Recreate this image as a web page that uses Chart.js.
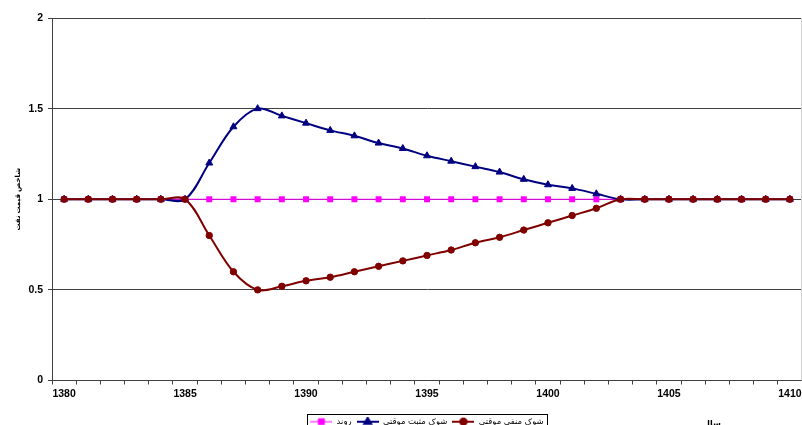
<!DOCTYPE html>
<html><head><meta charset="utf-8">
<script src="https://cdn.jsdelivr.net/npm/chart.js@4"></script>
<style>
html,body{margin:0;padding:0;background:#fff;overflow:hidden}
#wrap{position:relative;width:802px;height:425px;overflow:hidden;background:#fff}
#box{position:absolute;left:0;top:0;width:807px;height:440px}
</style></head><body>
<div id="wrap"><div id="box"><canvas id="c"></canvas></div></div>
<script>
const years = [1380,1381,1382,1383,1384,1385,1386,1387,1388,1389,1390,1391,1392,1393,1394,1395,1396,1397,1398,1399,1400,1401,1402,1403,1404,1405,1406,1407,1408,1409,1410];
const trendValues = [1,1,1,1,1,1,1,1,1,1,1,1,1,1,1,1,1,1,1,1,1,1,1,1,1,1,1,1,1,1,1];
const positiveShock = [1,1,1,1,1,1,1.2,1.4,1.5,1.46,1.42,1.38,1.35,1.31,1.28,1.24,1.21,1.18,1.15,1.11,1.08,1.06,1.03,1,1,1,1,1,1,1,1];
const negativeShock = [1,1,1,1,1,1,0.8,0.6,0.5,0.52,0.55,0.57,0.6,0.63,0.66,0.69,0.72,0.76,0.79,0.83,0.87,0.91,0.95,1,1,1,1,1,1,1,1];
const yTickValues = [0,0.5,1,1.5,2];
const seriesNames = ['روند','شوک مثبت موقتی','شوک منفی موقتی'];
const yTitle = 'شاخص قیمت نفت';
const xTitle = 'سال';

const FONT = '"Liberation Sans", Arial, "DejaVu Sans", sans-serif';
const AXIS = '#404040';

function legendMarker(color, lw, style, r) {
  const c = document.createElement('canvas');
  c.width = 22; c.height = 10;
  const g = c.getContext('2d');
  g.strokeStyle = color; g.lineWidth = lw;
  g.beginPath(); g.moveTo(0, 5); g.lineTo(22, 5); g.stroke();
  g.fillStyle = color; g.strokeStyle = color;
  Chart.helpers.drawPoint(g, {pointStyle: style, radius: r, borderWidth: 1, rotation: 0}, 11, 5);
  return c;
}
const markers = [
  legendMarker('#FF00FF', 1, 'rect', 4.2),
  legendMarker('#000080', 2, 'triangle', 4),
  legendMarker('#800000', 2, 'circle', 3.2)
];

const legendBox = {
  id: 'legendBox',
  afterDraw(chart) {
    const ctx = chart.ctx;
    const ca = chart.chartArea;
    ctx.save();
    // light plot-area edge on the right
    ctx.strokeStyle = '#d0d0d0'; ctx.lineWidth = 1;
    ctx.beginPath();
    ctx.moveTo(Math.floor(ca.right) - 0.5, ca.top);
    ctx.lineTo(Math.floor(ca.right) - 0.5, ca.bottom);
    ctx.stroke();
    const hb = chart.legend && chart.legend.legendHitBoxes;
    if (hb && hb.length) {
      let l = Infinity, r = -Infinity, t = Infinity, b = -Infinity;
      hb.forEach(h => { l = Math.min(l, h.left); r = Math.max(r, h.left + h.width); t = Math.min(t, h.top); b = Math.max(b, h.top + h.height); });
      ctx.strokeStyle = '#000'; ctx.lineWidth = 1;
      ctx.strokeRect(Math.round(l - 3) + 0.5, Math.round(t - 4) + 0.5, Math.round(r - l + 7), Math.round(b - t + 8));
      ctx.fillStyle = '#000';
      ctx.font = 'bold 8px ' + FONT;
      ctx.textAlign = 'center';
      ctx.textBaseline = 'middle';
      ctx.fillText(xTitle, ca.left + (ca.right - ca.left) * 0.88, (t + b) / 2 + 2);
    }
    ctx.restore();
  }
};

new Chart(document.getElementById('c'), {
  type: 'line',
  data: {
    labels: years.map(String),
    datasets: [
      {label: seriesNames[0], data: trendValues, borderColor: '#FF00FF', backgroundColor: '#FF00FF',
       borderWidth: 1, pointStyle: 'rect', pointRadius: 4.2, pointBorderWidth: 0, tension: 0, order: 3},
      {label: seriesNames[1], data: positiveShock, borderColor: '#000080', backgroundColor: '#000080',
       borderWidth: 2, pointStyle: 'triangle', pointRadius: 4, pointBorderWidth: 1, tension: 0.35, order: 2},
      {label: seriesNames[2], data: negativeShock, borderColor: '#800000', backgroundColor: '#800000',
       borderWidth: 2, pointStyle: 'circle', pointRadius: 3.2, pointBorderWidth: 1, tension: 0.35, order: 1}
    ]
  },
  options: {
    responsive: true,
    maintainAspectRatio: false,
    animation: false,
    events: [],
    layout: {padding: {left: 0, right: 0, top: 18, bottom: 4}},
    plugins: {
      tooltip: {enabled: false},
      legend: {
        display: true,
        position: 'bottom',
        fullSize: false,
        labels: {
          usePointStyle: true,
          pointStyleWidth: 22,
          padding: 5,
          color: '#000',
          font: {family: FONT, size: 8.5},
          sort: (a, b) => a.datasetIndex - b.datasetIndex,
          generateLabels: (chart) => {
            const items = Chart.defaults.plugins.legend.labels.generateLabels(chart);
            items.forEach(it => { it.pointStyle = markers[it.datasetIndex]; });
            return items;
          }
        }
      }
    },
    scales: {
      x: {
        type: 'category',
        offset: true,
        grid: {offset: true, drawOnChartArea: false, drawTicks: true, tickLength: 4, color: AXIS, lineWidth: 1},
        border: {display: true, color: AXIS, width: 1},
        ticks: {
          autoSkip: false, maxRotation: 0, minRotation: 0, padding: 3, color: '#000',
          font: {family: FONT, size: 10.5, weight: 'bold'},
          callback: function(v, i) { return years[i] % 5 === 0 ? String(years[i]) : ''; }
        },
        afterFit: (s) => { s.height = 32; }
      },
      y: {
        min: 0, max: 2,
        afterBuildTicks: (s) => { s.ticks = yTickValues.map(v => ({value: v})); },
        grid: {color: AXIS, lineWidth: 1, drawTicks: true, tickLength: 4},
        border: {display: true, color: AXIS, width: 1},
        ticks: {padding: 5, color: '#000', font: {family: FONT, size: 10.5, weight: 'bold'},
                callback: (v) => String(v)},
        title: {display: true, text: yTitle, color: '#000', font: {family: FONT, size: 7, weight: 'bold'}, padding: {top: 14, bottom: 0}},
        afterFit: (s) => { s.width = 52; }
      }
    }
  },
  plugins: [legendBox]
});
</script>
</body></html>
